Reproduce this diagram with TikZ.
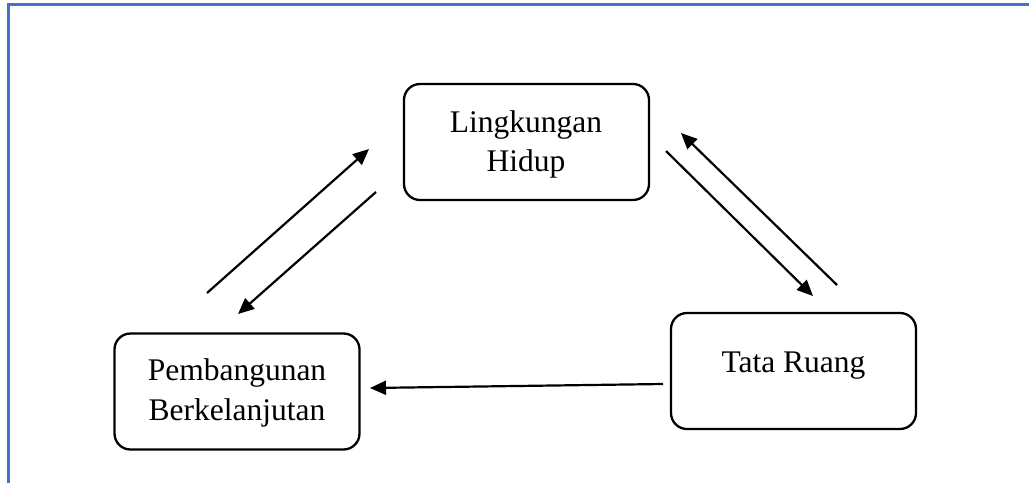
\documentclass[tikz,border=0pt]{standalone}
\usepackage{fontspec}
\setmainfont{Liberation Serif}
\usetikzlibrary{arrows.meta}
\definecolor{framecol}{HTML}{4472C4}
\begin{document}
\begin{tikzpicture}[x=1pt,y=-1pt,
  box/.style={draw=black,line width=2.3pt,rounded corners=16pt,minimum width=245pt,minimum height=116pt,inner sep=0pt},
  lbl/.style={anchor=base,font=\fontsize{31.5}{40}\selectfont,inner sep=0pt},
  link/.style={draw=black,line width=2.2pt,-{Triangle[length=16pt,width=14pt]}},
  frameline/.style={draw=framecol,line width=2.7pt}]
\useasboundingbox (0,0) rectangle (1029,483);
\fill[white] (0,0) rectangle (1029,483);
% frame
\coordinate (fTL) at (8.7,4.7);
\coordinate (fTR) at (1029,4.7);
\coordinate (fBL) at (8.7,483);
\draw[frameline] (fBL) -- (fTL) -- (fTR);
% boxes
\node[box] (lh) at (526.5,142) {};
\node[box] (pb) at (237,391.5) {};
\node[box] (tr) at (793.5,371) {};
% labels
\node[lbl] (lh1) at (526,132) {Lingkungan};
\node[lbl] (lh2) at (526,171) {Hidup};
\node[lbl] (pb1) at (237,380) {Pembangunan};
\node[lbl] (pb2) at (237,420) {Berkelanjutan};
\node[lbl] (tr1) at (793.5,372) {Tata Ruang};
% arrow endpoints
\coordinate (a1s) at (207,293);
\coordinate (a1e) at (369,149);
\coordinate (a2s) at (376,192);
\coordinate (a2e) at (238,314);
\coordinate (a3s) at (666,151);
\coordinate (a3e) at (813,296);
\coordinate (a4s) at (837,285);
\coordinate (a4e) at (681,133);
\coordinate (a5s) at (663,384);
\coordinate (a5e) at (370,388);
\draw[link] (a1s) -- (a1e);
\draw[link] (a2s) -- (a2e);
\draw[link] (a3s) -- (a3e);
\draw[link] (a4s) -- (a4e);
\draw[link] (a5s) -- (a5e);
\end{tikzpicture}
\end{document}
